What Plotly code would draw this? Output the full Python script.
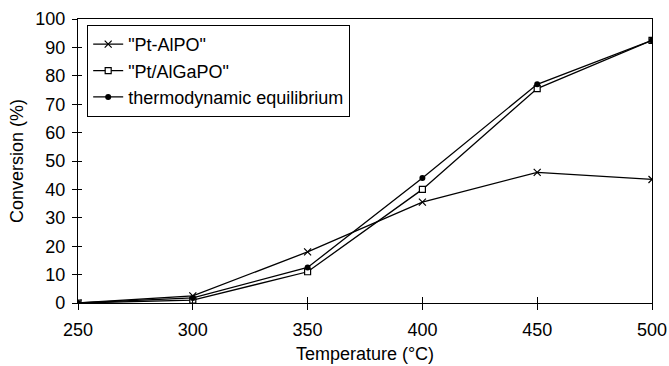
import plotly.graph_objects as go

temps = [250, 300, 350, 400, 450, 500]
pt_alpo = [0, 2.5, 18, 35.5, 46, 43.5]
pt_algapo = [0, 1, 11, 40, 75.5, 92.5]
thermo = [0, 1.8, 12.5, 44, 77, 92.5]
x_ticks = [250, 300, 350, 400, 450, 500]
y_ticks = list(range(0, 101, 10))

series = [
    ('"Pt-AlPO"', pt_alpo, dict(symbol="x-thin-open", size=7, line=dict(width=1.2, color="black"), color="black")),
    ('"Pt/AlGaPO"', pt_algapo, dict(symbol="square", size=6, line=dict(width=1.2, color="black"), color="white")),
    ("thermodynamic equilibrium", thermo, dict(symbol="circle", size=6, color="black")),
]

fig = go.Figure()
for name, vals, mk in series:
    fig.add_trace(go.Scatter(x=temps, y=vals, mode="lines+markers", name=name,
                             line=dict(color="black", width=1.3), marker=mk))
# invisible helper trace so the overlay axes (inner tick marks) are drawn
fig.add_trace(go.Scatter(x=temps, y=thermo, xaxis="x2", yaxis="y2", mode="lines",
                         line=dict(width=0), opacity=0, showlegend=False, hoverinfo="skip"))

font = "Liberation Sans, Arial, sans-serif"
common = dict(showgrid=False, zeroline=False, automargin=False)
fig.update_layout(
    width=669, height=366, autosize=False,
    margin=dict(l=78, r=17, t=19, b=63, autoexpand=False),
    paper_bgcolor="white", plot_bgcolor="white",
    font=dict(family=font, color="black", size=18),
    showlegend=True,
    legend=dict(x=0.016, y=0.979, xanchor="left", yanchor="top",
                bordercolor="black", borderwidth=1, bgcolor="white",
                font=dict(size=18, family=font), tracegroupgap=0,
                itemwidth=30),
    xaxis=dict(range=[250, 500], tickvals=x_ticks, **common,
               showline=True, linecolor="black", linewidth=1.3, mirror=True,
               ticks="outside", ticklen=6, tickcolor="black", tickfont=dict(size=18),
               ticklabelstandoff=4,
               title=dict(text="Temperature (°C)", font=dict(size=18), standoff=8)),
    yaxis=dict(range=[0, 100], tickvals=y_ticks, **common,
               showline=True, linecolor="black", linewidth=1.3, mirror=True,
               ticks="outside", ticklen=5, tickcolor="black", tickfont=dict(size=18),
               ticklabelstandoff=3,
               title=dict(text="Conversion (%)", font=dict(size=18), standoff=6)),
    xaxis2=dict(range=[250, 500], tickvals=x_ticks[:-1], overlaying="x", side="bottom",
                ticks="inside", ticklen=6, tickcolor="black", showticklabels=False,
                showline=False, **common),
    yaxis2=dict(range=[0, 100], tickvals=y_ticks[:-1], overlaying="y", side="left",
                ticks="inside", ticklen=4, tickcolor="black", showticklabels=False,
                showline=False, **common),
)

fig.write_html("out.html")
